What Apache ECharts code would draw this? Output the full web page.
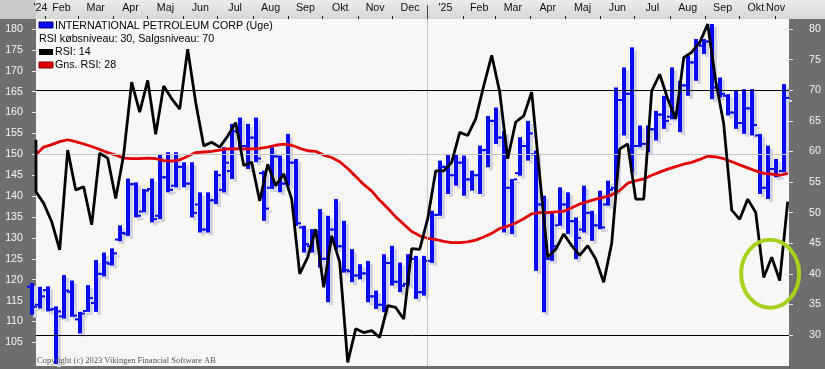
<!DOCTYPE html>
<html><head><meta charset="utf-8">
<script src="https://cdn.jsdelivr.net/npm/echarts@6/dist/echarts.min.js"></script>
<style>html,body{margin:0;padding:0;background:#6e6e6e}#c{width:825px;height:369px}</style>
</head><body><div id="c"></div>
<script>
// ---------- data (weekly bars, first bar = week of 2024-01-22) ----------
const firstWeek = '2024-01-22';
const opens = [118.3,114.0,117.5,113.0,111.2,117.1,110.5,112.5,114.4,121.4,
123.8,129.6,131.0,142.9,136.3,141.7,135.3,144.5,142.5,147.0,
143.0,138.0,132.0,139.0,141.5,146.0,155.5,152.0,154.0,145.5,
142.0,149.5,143.0,148.0,132.5,128.0,131.5,125.0,132.0,128.0,
122.0,121.0,121.5,116.0,114.0,124.0,119.5,119.0,125.0,117.0,
124.5,135.5,147.0,145.0,148.0,144.0,145.0,151.0,158.0,154.0,
142.0,145.5,152.0,150.0,138.0,125.0,133.0,138.0,134.0,132.0,
136.0,133.0,138.0,142.0,163.0,164.5,152.0,152.5,156.0,159.5,
159.0,160.0,166.5,172.0,176.0,177.0,166.0,164.0,160.0,157.5,
161.0,154.5,142.0,146.5,146.0];
const highs = [119.2,118.3,118.4,113.6,121.1,119.8,112.3,118.7,124.7,126.5,
127.5,133.0,144.2,143.3,141.7,144.2,150.1,150.5,150.5,148.1,
148.1,140.9,140.9,146.1,151.7,157.3,158.8,157.3,158.8,146.1,
151.7,149.7,154.9,148.9,132.9,132.1,136.9,135.3,139.3,134.1,
127.3,123.7,124.5,117.4,126.1,128.1,124.1,126.1,125.7,125.7,
136.5,148.5,150.1,150.1,149.7,146.1,152.1,159.2,161.2,155.6,
144.1,154.1,158.0,150.9,140.1,136.1,142.1,140.9,134.9,142.5,
136.5,141.3,143.7,166.0,170.8,175.6,156.9,156.9,160.4,164.0,
170.8,167.6,173.6,177.6,177.6,181.2,168.4,164.4,165.2,165.6,
165.6,154.9,152.1,148.9,166.8];
const lows = [111.6,113.1,112.4,99.8,110.7,111.1,107.1,112.3,112.3,120.8,
123.4,129.2,130.5,134.9,136.1,133.7,134.5,140.9,142.1,142.1,
134.9,131.3,131.3,138.1,140.9,144.1,151.3,146.5,148.1,134.1,
141.7,140.9,142.5,132.9,126.5,126.5,122.9,114.6,127.3,121.7,
119.4,120.1,114.6,113.0,112.2,118.6,117.0,118.6,115.4,116.2,
124.0,135.3,140.5,142.5,140.1,141.3,140.5,146.9,152.5,131.3,
130.9,144.9,148.5,122.1,112.2,124.5,132.9,130.9,124.9,131.3,
129.3,132.1,137.7,141.0,154.5,145.7,151.7,150.5,153.3,156.1,
158.4,155.3,164.0,167.6,174.0,163.2,163.6,159.3,156.1,154.9,
154.5,140.5,139.3,144.5,145.7];
const closes = [113.5,116.0,112.8,112.4,117.4,111.4,111.9,115.6,121.4,124.1,
126.3,131.2,142.8,135.3,141.3,134.5,144.5,141.5,147.0,143.0,
136.0,132.0,139.0,145.0,148.0,155.5,152.0,154.0,149.0,137.0,
149.5,143.0,148.0,133.5,128.5,131.5,125.0,132.0,128.0,122.3,
121.0,121.5,116.0,114.0,124.0,119.5,118.5,125.0,117.0,124.5,
135.5,147.0,145.0,148.0,144.0,145.0,151.0,158.0,154.0,142.0,
144.0,152.0,155.0,138.0,125.0,128.0,138.0,134.0,130.0,136.0,
133.0,132.5,141.5,163.0,164.5,152.0,152.5,156.0,159.5,158.0,
160.0,166.5,172.0,176.5,177.0,166.0,164.5,160.0,157.5,161.0,
157.0,142.0,146.5,145.0,163.5];
const rsiPrev = 61.9;
const rsi = [53.4,51.5,48.5,43.9,60.2,53.7,54.2,48.0,59.7,58.9,
52.3,59.5,71.3,66.4,71.6,62.8,70.7,68.6,66.9,76.7,
68.0,60.9,61.5,60.7,62.5,64.7,57.7,58.2,51.9,57.9,
54.4,56.3,52.2,40.0,42.7,47.3,37.8,46.2,41.9,25.5,
31.0,30.4,30.7,29.6,34.8,34.5,32.6,44.1,44.0,49.0,
56.8,56.8,58.2,63.1,62.6,65.3,70.7,75.7,69.7,58.8,
64.8,65.8,69.7,56.0,42.7,44.0,46.5,44.6,43.0,44.6,
42.4,38.6,45.0,60.4,61.2,52.2,52.2,69.9,72.6,68.6,
65.3,75.3,76.2,77.8,80.8,71.5,64.5,50.4,48.9,52.2,
50.0,39.4,42.7,38.9,51.8];
const rsiAvg = [59.5,60.7,61.1,61.6,61.9,61.6,61.2,60.8,60.3,59.8,
59.4,58.9,58.8,58.8,58.9,58.8,58.5,58.4,58.6,59.2,
59.8,59.9,60.0,60.2,60.4,60.4,60.4,60.4,60.5,60.7,
61.0,61.2,61.0,60.5,60.1,60.0,59.4,59.0,58.3,57.2,
55.9,54.6,53.5,52.0,50.7,49.3,48.1,46.9,46.2,45.8,
45.6,45.3,45.1,45.1,45.2,45.5,46.0,46.6,47.4,47.8,
48.3,49.0,49.8,50.0,50.0,50.1,50.2,50.8,51.4,51.8,
52.2,52.5,52.9,53.6,54.8,55.2,55.5,56.1,56.6,57.1,
57.5,57.9,58.2,58.7,59.2,59.1,58.8,58.3,57.8,57.3,
56.8,56.4,56.3,56.1,56.4];
const monthLabels = ["'24","Feb","Mar","Apr","Maj","Jun","Jul","Aug","Sep","Okt","Nov","Dec",
                     "'25","Feb","Mar","Apr","Maj","Jun","Jul","Aug","Sep","Okt","Nov"];
const priceTicks = [105,110,115,120,125,130,135,140,145,150,155,160,165,170,175,180];
const rsiTicks = [30,35,40,45,50,55,60,65,70,75,80];
const rsiBuy = 30, rsiSell = 70, priceRef = 150;

// ---------- scales ----------
const DAY = 86400000, WEEK = 7 * DAY;
const [fy, fm, fd] = firstWeek.split('-').map(Number);
const bar0Centre = Date.UTC(fy, fm - 1, fd) - 1.5 * DAY;
const idxOf = t => (t - bar0Centre) / WEEK;
const X_MIN = 0.5375, X_MAX = 94.66;
const P_MIN = 99.34, P_MAX = 182.39;
const R_MIN = 24.93, R_MAX = 81.63;
const FONT = "'Liberation Sans', Arial, sans-serif";

// month ticks and labels
const monthTicks = [];
const labelPos = [];
for (let k = 0; k < monthLabels.length; k++) {
  const s = idxOf(Date.UTC(2024, k, 1));
  const e = idxOf(Date.UTC(2024, k + 1, 1));
  if (k > 0 && k !== 12) monthTicks.push(s);
  labelPos.push((Math.max(s, X_MIN) + Math.min(e, X_MAX)) / 2);
}
const yearPos = idxOf(Date.UTC(2025, 0, 1));
const hw = s => s.length * 6.3 / 2 / 8;
for (let k = labelPos.length - 1; k >= 0; k--) {
  const lim = (k === labelPos.length - 1) ? X_MAX - 0.5 - hw(monthLabels[k])
            : labelPos[k + 1] - hw(monthLabels[k + 1]) - hw(monthLabels[k]) - 0.1;
  labelPos[k] = Math.min(labelPos[k], lim);
}
const labelFor = v => {
  for (let k = 0; k < labelPos.length; k++) if (Math.abs(labelPos[k] - v) < 1e-6) return monthLabels[k];
  return '';
};

const barData = opens.map((o, i) => [i, o, highs[i], lows[i], closes[i]]);
const rsiData = [[X_MIN, rsiPrev]].concat(rsi.map((v, j) => [Math.max(j + 0.5, X_MIN), v]));
const avgData = rsiAvg.map((v, j) => [Math.max(j + 0.5, X_MIN), v]);

const chart = echarts.init(document.getElementById('c'), null, {renderer: 'canvas', width: 825, height: 369});

function renderBar(params, api) {
  const i = api.value(0);
  const o = api.coord([i, api.value(1)]);
  const h = api.coord([i, api.value(2)]);
  const l = api.coord([i, api.value(3)]);
  const c = api.coord([i, api.value(4)]);
  const x = Math.round(h[0]);
  const bw = 4, tw = 3, th = 2;
  const make = (dx, dy, fill) => [
    {type: 'rect', shape: {x: x - 2 + dx, y: h[1] + dy, width: bw, height: l[1] - h[1]}, style: {fill}},
    {type: 'rect', shape: {x: x - 2 - tw + dx, y: o[1] - 1 + dy, width: tw, height: th}, style: {fill}},
    {type: 'rect', shape: {x: x + 2 + dx, y: c[1] - 1 + dy, width: tw, height: th}, style: {fill}}
  ];
  return {type: 'group', children: make(3, 3, '#d2d3e0').concat(make(0, 0, '#0a0af0'))};
}

chart.setOption({
  animation: false,
  backgroundColor: '#6e6e6e',
  grid: {left: 36, right: 36, top: 19, bottom: 3, show: true, backgroundColor: '#f7f7f7', borderWidth: 0},
  xAxis: [{
    type: 'value', position: 'top', min: X_MIN, max: X_MAX,
    axisLine: {show: false}, splitLine: {show: false},
    axisTick: {show: true, length: 3, customValues: monthTicks, lineStyle: {color: '#222', width: 1}},
    axisLabel: {show: true, customValues: labelPos, formatter: v => labelFor(v), margin: 5,
      color: '#111', fontSize: 10.7, fontFamily: FONT}
  }, {
    type: 'value', position: 'top', min: X_MIN, max: X_MAX,
    axisLine: {show: false}, splitLine: {show: false},
    axisTick: {show: true, length: 14, customValues: [yearPos], lineStyle: {color: '#444', width: 1}},
    axisLabel: {show: false}
  }],
  yAxis: [{
    type: 'value', position: 'left', min: P_MIN, max: P_MAX,
    axisLine: {show: false}, splitLine: {show: false},
    axisTick: {show: true, length: 4, customValues: priceTicks, lineStyle: {color: '#e8e8e8'}},
    axisLabel: {customValues: priceTicks, margin: 13, color: '#f4f4f4', fontSize: 10.7, fontFamily: FONT}
  }, {
    type: 'value', position: 'right', min: R_MIN, max: R_MAX,
    axisLine: {show: false}, splitLine: {show: false},
    axisTick: {show: true, length: 4, customValues: rsiTicks, lineStyle: {color: '#e8e8e8'}},
    axisLabel: {customValues: rsiTicks, margin: 20, color: '#f4f4f4', fontSize: 10.7, fontFamily: FONT}
  }],
  series: [{
    name: 'INTERNATIONAL PETROLEUM CORP (Uge)', type: 'custom', xAxisIndex: 0, yAxisIndex: 0,
    renderItem: renderBar, data: barData, clip: false, z: 3,
    markLine: {silent: true, symbol: ['none', 'none'], label: {show: false}, animation: false,
      lineStyle: {color: '#c6c6c6', width: 1, type: 'solid'},
      emphasis: {disabled: true},
      data: [{yAxis: priceRef}, {xAxis: yearPos}]}
  }, {
    name: 'Gns. RSI: 28', type: 'line', xAxisIndex: 0, yAxisIndex: 1, data: avgData,
    showSymbol: false, symbol: 'none', lineStyle: {color: '#e00000', width: 2.8}, z: 4
  }, {
    name: 'RSI: 14', type: 'line', xAxisIndex: 0, yAxisIndex: 1, data: rsiData,
    showSymbol: false, symbol: 'none', lineStyle: {color: '#000', width: 2.8}, z: 5,
    markLine: {silent: true, symbol: ['none', 'none'], label: {show: false}, animation: false,
      lineStyle: {color: '#000', width: 1, type: 'solid'},
      emphasis: {disabled: true},
      data: [{yAxis: rsiSell}, {yAxis: rsiBuy}]}
  }]
});

const ec = chart.convertToPixel({xAxisIndex: 0, yAxisIndex: 1}, [92.3, 40.0]);
const legendFont = '10.7px ' + FONT;
chart.setOption({
  graphic: [
    {type: 'rect', id: 'band', z: -1, shape: {x: 0, y: 0, width: 825, height: 19},
      style: {fill: new echarts.graphic.LinearGradient(0, 0, 0, 1, [{offset: 0, color: '#ececec'}, {offset: 1, color: '#d6d6d6'}])}},
    {type: 'rect', id: 'bandL', z: -1, shape: {x: 0, y: 0, width: 36, height: 19}, style: {fill: '#c9c9c9'}},
    {type: 'rect', id: 'lg1', z: 50, shape: {x: 39, y: 22, width: 14, height: 6}, style: {fill: '#0a0af0', stroke: '#00007a', lineWidth: 1}},
    {type: 'text', id: 'lt1', z: 50, x: 55, y: 26, style: {text: 'INTERNATIONAL PETROLEUM CORP (Uge)', font: legendFont, fill: '#000', verticalAlign: 'middle'}},
    {type: 'text', id: 'lt2', z: 50, x: 39, y: 39, style: {text: 'RSI købsniveau: 30, Salgsniveau: 70', font: legendFont, fill: '#000', verticalAlign: 'middle'}},
    {type: 'rect', id: 'lg3', z: 50, shape: {x: 39, y: 49, width: 14, height: 6}, style: {fill: '#000'}},
    {type: 'text', id: 'lt3', z: 50, x: 55, y: 52, style: {text: 'RSI: 14', font: legendFont, fill: '#000', verticalAlign: 'middle'}},
    {type: 'rect', id: 'lg4', z: 50, shape: {x: 39, y: 62, width: 14, height: 6}, style: {fill: '#e00000', stroke: '#800000', lineWidth: 1}},
    {type: 'text', id: 'lt4', z: 50, x: 55, y: 65, style: {text: 'Gns. RSI: 28', font: legendFont, fill: '#000', verticalAlign: 'middle'}},
    {type: 'text', id: 'copy', z: 50, x: 37, y: 361, style: {text: 'Copyright (c) 2023 Vikingen Financial Software AB', font: "8.5px 'Liberation Serif', 'Times New Roman', serif", fill: '#555', verticalAlign: 'middle'}},
    {type: 'ellipse', id: 'ring', z: 60, shape: {cx: ec[0], cy: ec[1], rx: 29, ry: 34}, style: {fill: 'none', stroke: '#a6d21e', lineWidth: 4}}
  ]
});
</script>
</body></html>
